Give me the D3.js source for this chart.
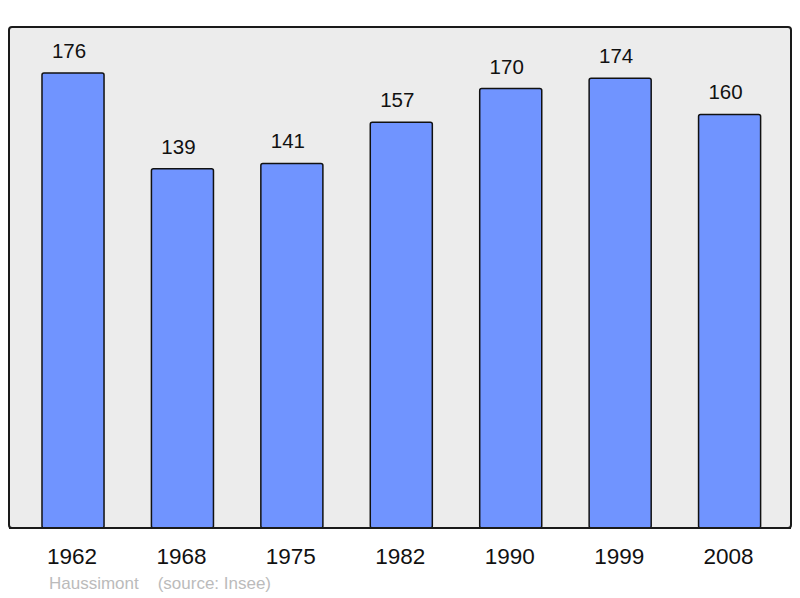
<!DOCTYPE html>
<html>
<head>
<meta charset="utf-8">
<script src="https://cdn.jsdelivr.net/npm/d3@7"></script>
<style>
  body { margin: 0; background: #fff; }
  svg { display: block; font-family: "Liberation Sans", Arial, sans-serif; }
</style>
</head>
<body>
<svg id="chart" width="800" height="598"></svg>
<script>
// population per census year
const years = ["1962", "1968", "1975", "1982", "1990", "1999", "2008"];
const population = [176, 139, 141, 157, 170, 174, 160];
const place = "Haussimont";
const source = "(source: Insee)";

const svg = d3.select("#chart");

// grey frame
svg.append("rect")
  .attr("x", 9).attr("y", 27)
  .attr("width", 782).attr("height", 501)
  .attr("rx", 3)
  .attr("fill", "#ececec")
  .attr("stroke", "#1a1a1a")
  .attr("stroke-width", 2);

const x = d3.scaleBand()
  .domain(years)
  .range([18.3, 784.3])
  .paddingInner(0.433)
  .paddingOuter(0.2165);

const y = d3.scaleLinear()
  .domain([0, 193.8])
  .range([528, 27]);

const bars = svg.append("g");
years.forEach((yr, i) => {
  const v = population[i];
  bars.append("rect")
    .attr("x", x(yr))
    .attr("y", y(v))
    .attr("width", x.bandwidth())
    .attr("height", y(0) - y(v))
    .attr("rx", 2)
    .attr("fill", "#7094ff")
    .attr("stroke", "#111")
    .attr("stroke-width", 1.5);

  bars.append("text")
    .attr("x", x(yr) + x.bandwidth() / 2 - 4)
    .attr("y", y(v) - 15)
    .attr("text-anchor", "middle")
    .attr("font-size", 20.5)
    .attr("fill", "#111")
    .text(v);
});

// redraw frame bottom so bars sit under it
svg.append("line")
  .attr("x1", 9).attr("x2", 791)
  .attr("y1", 528).attr("y2", 528)
  .attr("stroke", "#1a1a1a").attr("stroke-width", 2);

const xAxis = svg.append("g");
years.forEach(yr => {
  xAxis.append("text")
    .attr("x", x(yr) + x.bandwidth() / 2 - 1)
    .attr("y", 564)
    .attr("text-anchor", "middle")
    .attr("font-size", 22.5)
    .attr("fill", "#111")
    .text(yr);
});

svg.append("text")
  .attr("x", 49).attr("y", 589)
  .attr("font-size", 17)
  .attr("fill", "#bbbbbb")
  .attr("xml:space", "preserve")
  .style("white-space", "pre")
  .text(place + "    " + source);
</script>
</body>
</html>
